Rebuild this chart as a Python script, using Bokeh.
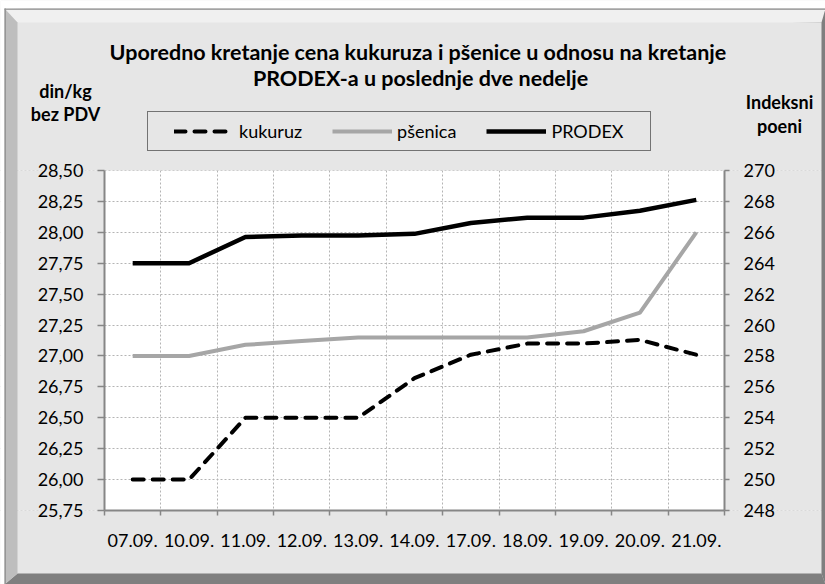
from bokeh.plotting import figure
from bokeh.models import (Range1d, LinearAxis, FixedTicker, CustomJSTickFormatter,
                          Legend, LegendItem, Label, PolyAnnotation)
from bokeh.embed import file_html
from bokeh.resources import INLINE

# ---- data ----
dates = ["07.09.", "10.09.", "11.09.", "12.09.", "13.09.", "14.09.",
         "17.09.", "18.09.", "19.09.", "20.09.", "21.09."]
kukuruz = [26.00, 26.00, 26.50, 26.50, 26.50, 26.82, 27.01, 27.10, 27.10, 27.13, 27.01]
psenica = [27.00, 27.00, 27.09, 27.12, 27.15, 27.15, 27.15, 27.15, 27.20, 27.35, 28.00]
prodex = [264.0, 264.0, 265.7, 265.8, 265.8, 265.9, 266.6, 266.95, 266.95, 267.4, 268.1]
left_ticks = [25.75, 26.00, 26.25, 26.50, 26.75, 27.00, 27.25, 27.50, 27.75, 28.00, 28.25, 28.50]
right_ticks = [248, 250, 252, 254, 256, 258, 260, 262, 264, 266, 268, 270]
title_lines = ["Uporedno kretanje cena kukuruza  i pšenice u odnosu na kretanje",
               "PRODEX-a u poslednje dve nedelje"]
left_unit = ["din/kg", "bez PDV"]
right_unit = ["Indeksni", "poeni"]
series_names = ["kukuruz", "pšenica", "PRODEX"]

# ---- layout constants (pixels) ----
W, H = 825, 584
PL, PR, PT, PB = 104, 724, 170, 510      # plot area inside the canvas
FONT = "Lato"
BG = "#e6e6e6"
AX = "#868686"

xs = list(range(len(dates)))
x0, x1 = -0.5, len(dates) - 0.5


def ext(lo, hi, a, b, total):
    """range whose [lo, hi] maps onto pixels [a, b] of a span of 'total' px"""
    s = (hi - lo) / (b - a)
    return lo - a * s, hi + (total - b) * s


xr = ext(x0, x1, PL, PR, W)
yl = ext(left_ticks[0], left_ticks[-1], H - PB, H - PT, H)
yr = ext(right_ticks[0], right_ticks[-1], H - PB, H - PT, H)

p = figure(width=W, height=H, output_backend="svg", toolbar_location=None,
           x_range=Range1d(*xr), y_range=Range1d(*yl), min_border=0)
p.title.visible = False
p.extra_y_ranges = {"idx": Range1d(*yr)}
p.background_fill_color = "white"
p.border_fill_color = BG
p.outline_line_color = None

# grids
p.xgrid.ticker = FixedTicker(ticks=[i + 0.5 for i in range(len(dates) - 1)])
p.ygrid.ticker = FixedTicker(ticks=left_ticks)
for g in (p.xgrid, p.ygrid):
    g.grid_line_color = "#b4b4b4"
    g.grid_line_dash = "2 2"
    g.grid_line_width = 1

# grey surround + bevel frame (canvas pixels)
shapes = [
    ([0, W, W, 0], [0, 0, PT, PT], BG),
    ([0, W, W, 0], [PB, PB, H, H], BG),
    ([0, PL, PL, 0], [PT, PT, PB, PB], BG),
    ([PR, W, W, PR], [PT, PT, PB, PB], BG),
    ([0, W, W, 0], [0, 0, 8, 8], "white"),
    ([0, 4, 4, 0], [0, 0, H, H], "white"),
    ([4, W, W, 821, 821], [8, 8, H, 573, 22], "#7f7f7f"),
    ([4, W, 821, 17], [H, H, 573, 573], "#7f7f7f"),
    ([4, W, 821, 17], [8, 8, 22, 22], "#f0f0f0"),
    ([4, 17, 17, 4], [8, 22, 573, H], "#bebebe"),
    ([4, W, W, 4], [8, 8, 9.5, 9.5], "#a3a3a3"),
    ([4, 5.5, 5.5, 4], [8, 8, H, H], "#969696"),
]
for bx, by, c in shapes:
    p.add_layout(PolyAnnotation(xs=bx, ys=by, xs_units="canvas", ys_units="canvas",
                                fill_color=c, fill_alpha=1, line_color=None,
                                level="underlay"))

# x axis (fixed at the bottom of the plot area)
xa = p.xaxis[0]
xa.fixed_location = left_ticks[0]
xa.bounds = (x0, x1)
xa.ticker = FixedTicker(ticks=xs, minor_ticks=[i - 0.5 for i in range(len(dates) + 1)])
xa.major_label_overrides = {i: d for i, d in enumerate(dates)}
xa.minor_tick_in = 0
xa.minor_tick_out = 5
xa.minor_tick_line_color = AX
xa.minor_tick_line_width = 1.5
xa.major_label_standoff = 18

# left axis
ya = p.yaxis[0]
ya.fixed_location = x0
ya.bounds = (left_ticks[0], left_ticks[-1])
ya.ticker = FixedTicker(ticks=left_ticks)
ya.formatter = CustomJSTickFormatter(code="return tick.toFixed(2).replace('.', ',')")
ya.major_tick_out = 7
ya.major_label_standoff = 14

# right axis
ra = LinearAxis(y_range_name="idx", ticker=FixedTicker(ticks=right_ticks))
ra.fixed_location = x1
ra.bounds = (right_ticks[0], right_ticks[-1])
ra.major_tick_out = 5
ra.major_label_standoff = 14
p.add_layout(ra, "right")

for ax in (xa, ya, ra):
    ax.axis_line_color = AX
    ax.axis_line_width = 2
    ax.major_tick_in = 0
    ax.major_tick_line_width = 1.5
    if ax is xa:
        ax.major_tick_out = 0
        ax.major_tick_line_color = None
    else:
        ax.major_tick_line_color = AX
        ax.minor_tick_line_color = None
    ax.major_label_text_font = FONT
    ax.major_label_text_font_size = "18px"
    ax.major_label_text_color = "black"

# lines
r_k = p.line(xs, kukuruz, line_color="black", line_width=4, line_dash="11 9",
             line_cap="round", line_join="round")
r_p = p.line(xs, psenica, line_color="#a6a6a6", line_width=4, line_join="round")
r_x = p.line(xs, prodex, line_color="black", line_width=4.5, line_join="round",
             y_range_name="idx")

legend = Legend(items=[LegendItem(label=series_names[0], renderers=[r_k]),
                       LegendItem(label=series_names[1], renderers=[r_p]),
                       LegendItem(label=series_names[2], renderers=[r_x])],
                orientation="horizontal", location=(147, H - 151))
legend.label_text_font = FONT
legend.label_text_font_size = "18px"
legend.label_text_color = "black"
legend.glyph_width = 60
legend.glyph_height = 20
legend.label_standoff = 5
legend.spacing = 30
try:
    legend.padding = (26, 8)
except Exception:
    legend.padding = 9
legend.margin = 0
legend.border_line_color = "black"
legend.border_line_width = 1.5
legend.background_fill_color = BG
legend.background_fill_alpha = 1
p.add_layout(legend, "center")


def lab(x, y, t, size):
    p.add_layout(Label(x=x, y=y, x_units="canvas", y_units="canvas", text=t,
                       text_font=FONT, text_font_size=size,
                       text_font_style="bold",
                       text_align="center", text_baseline="middle",
                       text_color="black"))


lab(420, 51, title_lines[0], "21.5px")
lab(420, 77, title_lines[1], "21.5px")
lab(65, 90, left_unit[0], "18px")
lab(65, 113, left_unit[1], "18px")
lab(779, 101, right_unit[0], "18px")
lab(779, 125, right_unit[1], "18px")

open("out.html", "w").write(file_html(p, INLINE))
